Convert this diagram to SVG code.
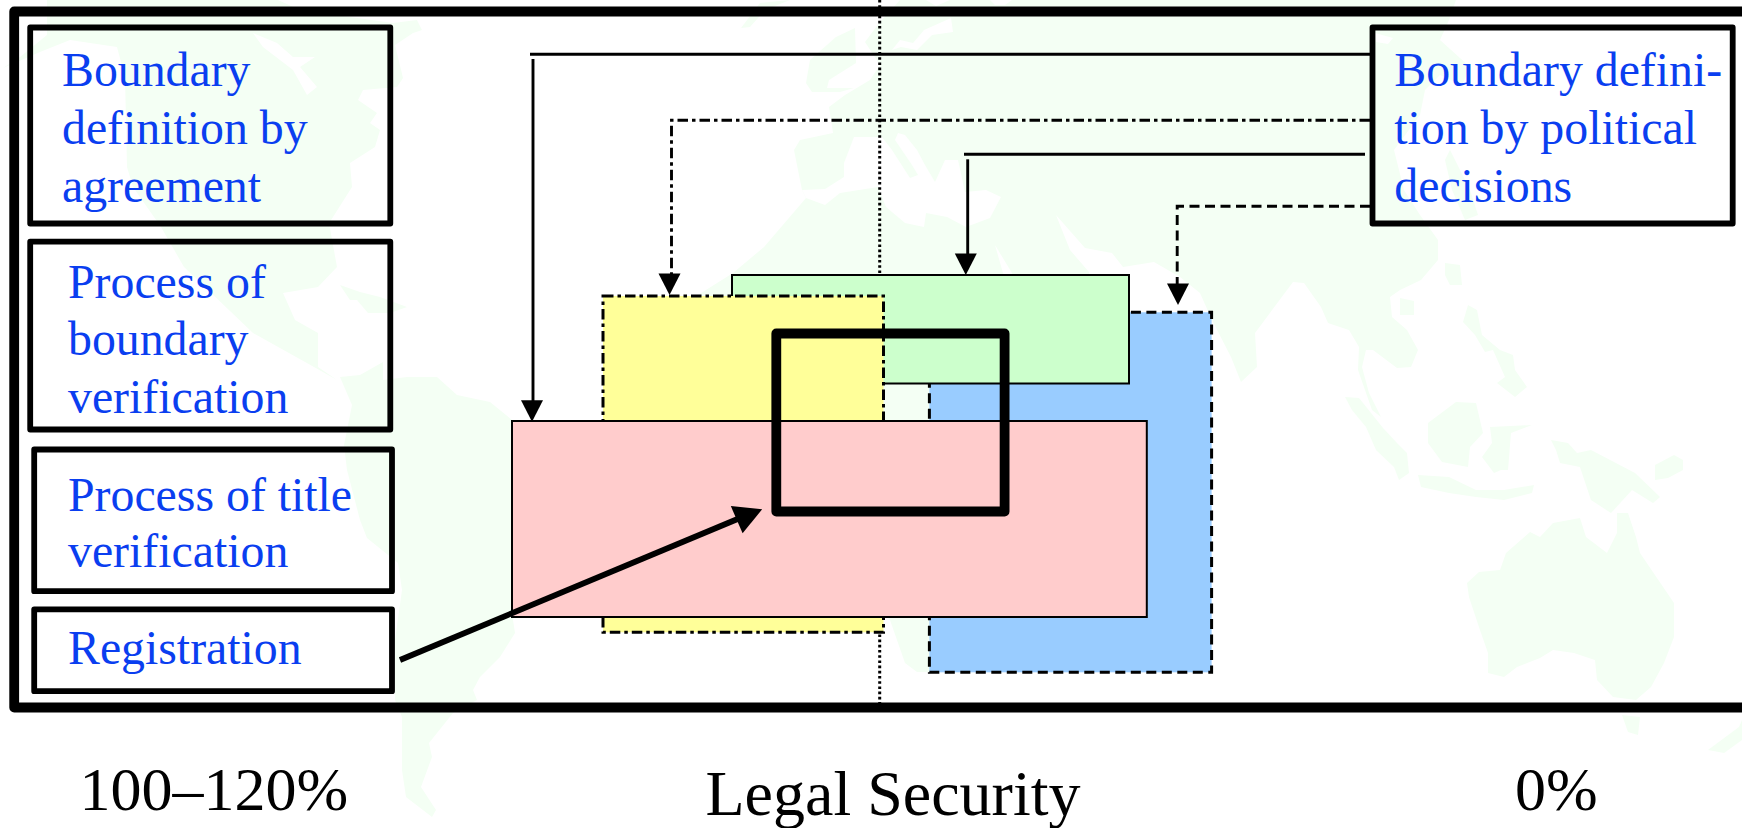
<svg xmlns="http://www.w3.org/2000/svg" width="1742" height="828" viewBox="0 0 1742 828">
<style>
.land{fill:#f4fff4}
.sea{fill:#fff}
.box{fill:none;stroke:#000;stroke-width:5.8;stroke-linejoin:round}
.lbl{font-family:"Liberation Serif","Times New Roman",serif;font-size:47.8px;fill:#0a3ef0}
.cap{font-family:"Liberation Serif","Times New Roman",serif;font-size:64px;fill:#000}
.num{font-size:62px}
.c{fill:none;stroke:#000;stroke-width:2.9}
.dd{stroke-dasharray:10.5 4 3.5 4}
.da{stroke-dasharray:10 5.5}
.r{stroke:#000;stroke-width:2}
.rd{stroke:#000;stroke-width:3}
</style>
<defs>
<polygon id="head" points="-11,-21.5 11,-21.5 0,0" fill="#000"/>
</defs>
<rect width="1742" height="828" fill="#fff"/>
<g id="map">
<path class="land" d="M3,68 L20,57 47,35 47,0 278,0 300,10 393,23 417,20 422,30 413,33 395,45 403,78 397,87 363,90 358,100 377,113 370,123 380,130 375,147 350,163 352,187 333,217 329,223 337,267 318,287 283,293 295,320 318,333 318,367 337,380 314,367 253,333 184,267 161,227 133,187 127,167 125,77 117,47 70,40 40,52 Z"/>
<polygon class="sea" points="253,33 277,43 293,57 315,57 300,67 317,87 307,95 293,70 263,47"/>
<polygon class="land" points="340,285 350,300 357,300 368,313 390,313 407,307 380,297 360,292"/>
<polygon class="land" points="340,377 360,375 383,362 383,380 407,377 437,377 457,395 490,402 512,420 530,500 513,620 515,633 500,657 480,677 473,690 477,700 453,713 429,743 432,757 421,787 436,810 432,817 406,797 402,770 402,717 395,700 395,640 402,590 398,563 367,538 360,520 347,470 344,445 352,405"/>
<path class="land" d="M794,150 L800,140 833,133 829,107 845,95 870,80 880,65 865,42 880,22 900,0 1456,0 1449,20 1440,40 1470,67 1462,85 1440,75 1425,90 1420,115 1394,150 1404,190 1420,215 1438,240 1438,260 1421,280 1400,290 1390,297 1392,317 1407,330 1418,350 1411,367 1397,368 1373,350 1366,350 1362,367 1369,393 1381,417 1372,410 1358,370 1359,347 1349,330 1328,323 1321,307 1304,283 1293,282 1255,333 1257,367 1241,382 1231,357 1212,320 1200,293 1180,277 1154,262 1123,267 1112,253 1085,248 1056,215 1070,250 1089,272 1100,420 1000,640 960,672 917,672 905,663 890,620 700,420 690,300 733,273 764,247 806,198 802,190 Z"/>
<polygon class="sea" points="806,198 825,205 840,193 878,187 886,207 905,223 924,227 926,213 947,217 966,227 990,218 1001,197 986,190 965,192 958,160 945,160 935,182 925,165 917,150 905,135 898,133 895,140 912,165 918,175 910,178 892,150 882,137 854,137 844,163 844,177 825,189 802,190"/>
<polygon class="sea" points="995,245 1012,273 1020,300 1003,273"/>
<polygon class="sea" points="913,43 924,30 951,18 953,32 932,35 917,50 901,47 892,50 900,40"/>
<polygon class="sea" points="926,0 950,0 936,6"/>
<polygon class="sea" points="990,0 1012,0 1005,5 995,5"/>
<polygon class="sea" points="1375,33 1393,38 1388,44 1376,42"/>
<polygon class="land" points="806,83 810,60 836,37 855,28 856,63 829,80 827,88 854,88 840,92 812,92"/>
<polygon class="land" points="741,28 760,3 790,0 765,10 750,27"/>
<polygon class="land" points="1450,150 1470,190 1478,215 1465,220 1452,190 1445,160"/>
<polygon class="land" points="1445,263 1460,265 1462,285 1450,285 1445,275"/>
<polygon class="land" points="1400,298 1414,301 1414,315 1400,315"/>
<polygon class="land" points="1468,305 1477,310 1482,335 1500,350 1513,355 1515,370 1527,387 1515,397 1497,383 1505,377 1493,350 1485,352 1475,335 1463,322"/>
<polygon class="land" points="1345,397 1359,398 1383,428 1397,443 1407,453 1409,473 1399,480 1394,467 1376,450 1366,427 1352,410"/>
<polygon class="land" points="1428,423 1456,402 1476,403 1483,433 1470,447 1468,467 1442,462 1428,443"/>
<polygon class="land" points="1490,427 1532,425 1511,433 1508,470 1501,470 1494,473 1482,457 1492,443"/>
<polygon class="land" points="1418,475 1449,477 1476,490 1504,490 1534,485 1532,493 1504,500 1476,497 1449,493 1421,487"/>
<polygon class="land" points="1551,440 1568,443 1577,453 1591,450 1635,473 1660,497 1653,503 1632,490 1611,513 1591,500 1580,467 1560,463 1556,450"/>
<polygon class="land" points="1655,465 1674,455 1683,460 1683,470 1668,478 1655,480"/>
<polygon class="land" points="1467,583 1479,572 1500,570 1506,553 1530,532 1540,537 1553,523 1580,518 1586,537 1607,553 1617,533 1617,513 1628,513 1636,537 1640,553 1674,603 1674,637 1664,663 1651,687 1636,700 1613,697 1597,680 1595,660 1574,653 1553,650 1540,658 1517,667 1504,677 1488,673 1488,653 1481,633 1469,597"/>
<polygon class="land" points="1622,715 1640,717 1638,735 1628,732"/>
<polygon class="land" points="1708,750 1739,727 1742,720 1742,740 1724,753"/>
</g>
<g id="axis">
<line x1="879.7" y1="0" x2="879.7" y2="703" stroke="#000" stroke-width="3" stroke-dasharray="2.6 2.6"/>
</g>
<g id="frame">
<rect x="14.2" y="11.5" width="1760" height="696" fill="none" stroke="#000" stroke-width="9.8" stroke-linejoin="round"/>
</g>
<g id="blue-area"><rect class="rd da" x="929.4" y="312.3" width="282.2" height="360" fill="#99ccff"/></g>
<g id="green-area"><rect class="r" x="732" y="275" width="397" height="108.5" fill="#ccffcc"/></g>
<g id="yellow-area"><rect class="rd dd" x="603" y="296" width="280.5" height="336.3" fill="#ffff99"/></g>
<g id="pink-area"><rect class="r" x="512" y="421" width="634.8" height="196" fill="#ffcccc"/></g>
<g id="legal-window"><rect x="776.3" y="333.5" width="228.3" height="178" fill="none" stroke="#000" stroke-width="9.8" stroke-linejoin="round"/></g>
<g id="connectors">
<path class="c" d="M530,54.3 H1370"/>
<path class="c" d="M533,59 V402"/>
<use href="#head" x="532" y="421.7"/>
<path class="c dd" d="M1370,120.3 H671.5 V274"/>
<use href="#head" x="669.5" y="295"/>
<path class="c" d="M964,154.3 H1365"/>
<path class="c" d="M967.7,159.3 V254"/>
<use href="#head" x="965.8" y="275"/>
<path class="c da" d="M1370,206.3 H1177.2 V284"/>
<use href="#head" x="1178" y="305"/>
<path d="M400,660 L740,518" fill="none" stroke="#000" stroke-width="5.8"/>
<polygon points="762.2,509.3 730.8,506 742.6,533.3" fill="#000"/>
</g>
<g id="n1"><rect class="box" x="30.2" y="27.5" width="360.1" height="196"/>
<text class="lbl"><tspan x="62" y="86">Boundary</tspan><tspan x="62" y="144">definition by</tspan><tspan x="62" y="201.5">agreement</tspan></text></g>
<g id="n2"><rect class="box" x="30.2" y="241.7" width="360.1" height="187.8"/>
<text class="lbl"><tspan x="68" y="297.5">Process of</tspan><tspan x="68" y="355">boundary</tspan><tspan x="68" y="413">verification</tspan></text></g>
<g id="n3"><rect class="box" x="34.2" y="449.5" width="357.8" height="141.7"/>
<text class="lbl"><tspan x="68" y="511">Process of title</tspan><tspan x="68" y="567">verification</tspan></text></g>
<g id="n4"><rect class="box" x="34.2" y="609.3" width="357.8" height="81.9"/>
<text class="lbl" x="68" y="664">Registration</text></g>
<g id="n5"><rect class="box" x="1372.5" y="27.5" width="360.2" height="196"/>
<text class="lbl"><tspan x="1394.3" y="86">Boundary defini-</tspan><tspan x="1394.3" y="144">tion by political</tspan><tspan x="1394.3" y="201.5">decisions</tspan></text></g>
<g id="captions">
<text class="cap num" x="79.5" y="810">100–120%</text>
<text class="cap" x="705.5" y="815">Legal Security</text>
<text class="cap num" x="1515" y="810">0%</text>
</g>
</svg>
